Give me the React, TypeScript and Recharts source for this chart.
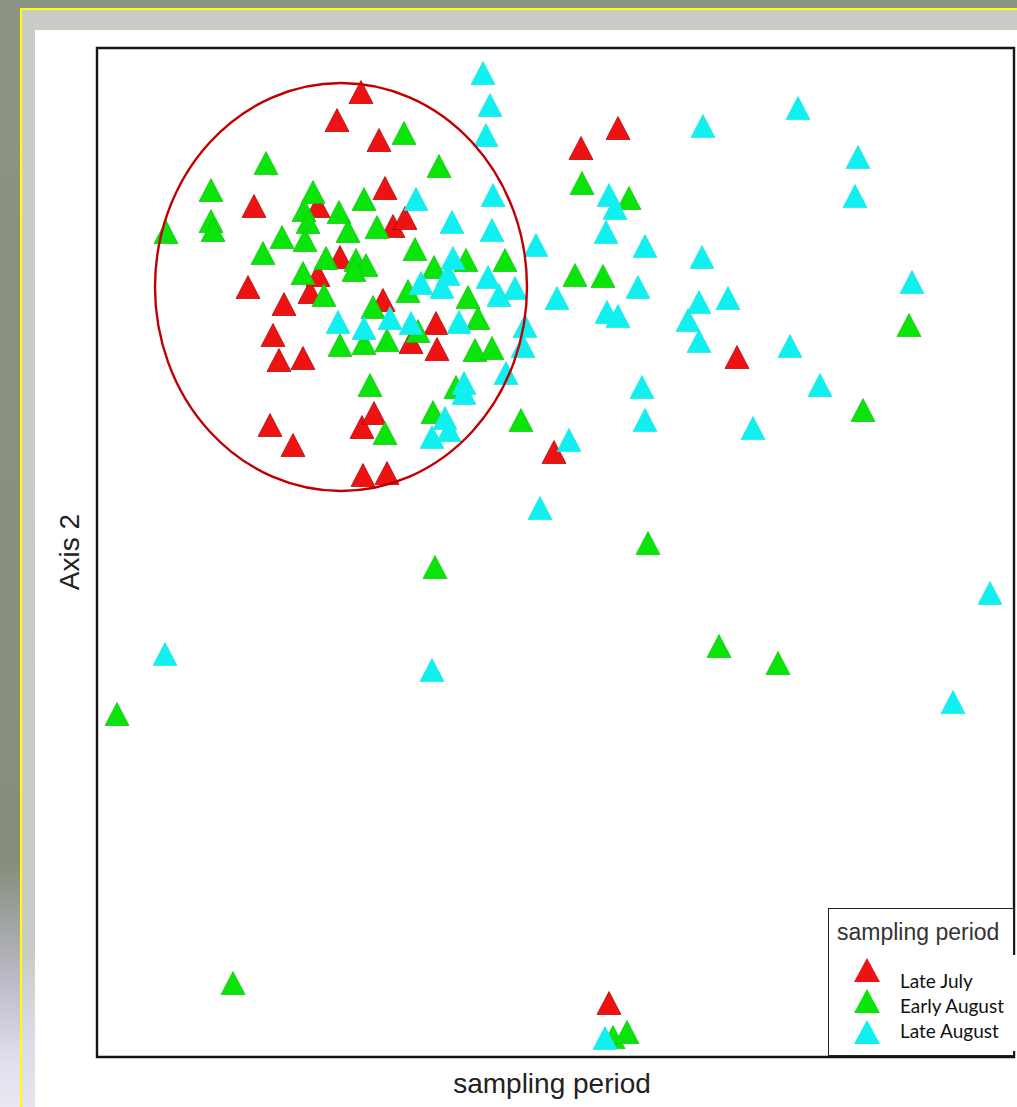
import { ScatterChart, Scatter, XAxis, YAxis, ReferenceArea } from 'recharts';

// ordination scores (Axis 1 across, Axis 2 up)
const X_MAX = 917;
const Y_MAX = 1009;

const lateJuly: [number, number][] = [
  [264, 965], [240, 937], [282, 917], [288, 869], [157, 851], [221, 851],
  [296, 831], [308, 839], [243, 800], [221, 782], [213, 765], [151, 770],
  [187, 753], [176, 722], [182, 697], [206, 699], [286, 757], [339, 734],
  [340, 708], [314, 715], [173, 632], [196, 612], [265, 630], [277, 644],
  [266, 582], [290, 584], [484, 909], [521, 929], [457, 605], [640, 700],
  [512, 54],
];

const earlyAugust: [number, number][] = [
  [307, 924], [342, 891], [169, 894], [114, 867], [114, 836], [116, 827],
  [69, 825], [216, 865], [207, 847], [211, 835], [208, 817], [242, 845],
  [251, 826], [267, 858], [280, 830], [185, 820], [166, 804], [229, 799],
  [259, 797], [269, 792], [257, 787], [206, 784], [227, 762], [318, 808],
  [337, 790], [369, 797], [408, 797], [311, 766], [371, 760], [381, 739],
  [276, 750], [243, 712], [267, 714], [290, 717], [321, 726], [378, 707],
  [395, 709], [273, 672], [336, 645], [359, 670], [288, 624], [424, 637],
  [485, 874], [532, 859], [478, 782], [506, 781], [812, 732], [766, 647],
  [551, 514], [338, 490], [622, 411], [681, 394], [20, 343], [136, 74],
  [516, 20], [530, 25],
];

const lateAugust: [number, number][] = [
  [386, 984], [393, 952], [389, 922], [319, 858], [396, 862], [355, 835],
  [395, 827], [439, 812], [356, 799], [351, 783], [345, 770], [324, 774],
  [391, 780], [402, 762], [418, 769], [241, 735], [267, 729], [293, 739],
  [314, 734], [362, 735], [428, 731], [426, 711], [409, 684], [367, 674],
  [367, 664], [348, 639], [352, 627], [335, 620], [443, 549], [606, 931],
  [701, 949], [761, 900], [758, 861], [512, 862], [518, 849], [509, 825],
  [548, 811], [605, 800], [815, 775], [460, 759], [541, 770], [602, 755],
  [631, 759], [510, 745], [521, 741], [591, 737], [602, 716], [693, 711],
  [723, 672], [545, 670], [548, 637], [656, 629], [472, 617], [893, 464],
  [68, 403], [335, 387], [856, 355], [508, 19],
];

// grouping ellipse for the Late July cluster: centre and radii in score units
const ellipseCenter = { x: 244, y: 770 };
const ellipseRadii = { rx: 186, ry: 204 };

const legendLabels = ['Late July', 'Early August', 'Late August'];
const colors = ['#ee1212', '#0be40b', '#10f0f0'];

const CHART_W = 1017;
const CHART_H = 1107;
const margin = { top: 48, right: 3, bottom: 50, left: 97 };
const plotW = CHART_W - margin.left - margin.right;
const plotH = CHART_H - margin.top - margin.bottom;

const toRows = (pts: [number, number][]) => pts.map(([x, y]) => ({ x, y }));

const triangle = (fill: string, stroke: string) => (props: any) => {
  const { cx, cy } = props;
  if (cx == null || cy == null) return <g />;
  const w = 12;
  const h = 11.5;
  return (
    <polygon
      points={`${cx},${cy - h} ${cx - w},${cy + h} ${cx + w},${cy + h}`}
      fill={fill}
      stroke={stroke}
      strokeWidth={0.7}
    />
  );
};

const ellipseShape = (props: any) => {
  const { cx, cy } = props;
  if (cx == null || cy == null) return <g />;
  return (
    <ellipse
      cx={cx}
      cy={cy}
      rx={(ellipseRadii.rx * plotW) / X_MAX}
      ry={(ellipseRadii.ry * plotH) / Y_MAX}
      fill="none"
      stroke="#c00000"
      strokeWidth={2.4}
    />
  );
};

const LegendTri = ({ color, top }: { color: string; top: number }) => (
  <svg width={28} height={26} style={{ position: 'absolute', left: 853, top }}>
    <polygon points="14,1 1,25 27,25" fill={color} />
  </svg>
);

export default function App() {
  return (
    <div
      style={{
        position: 'absolute',
        left: 0,
        top: 0,
        width: CHART_W,
        height: CHART_H,
        overflow: 'hidden',
        background:
          'linear-gradient(180deg, #8b9483 0%, #858d7c 78%, #b9b8c4 88%, #e2dfee 96%, #ebe8f3 100%)',
      }}
    >
      {/* yellow frame + grey mat */}
      <div
        style={{
          position: 'absolute',
          left: 20,
          top: 8,
          width: CHART_W,
          height: CHART_H,
          borderLeft: '2px solid #ffff00',
          borderTop: '2px solid #ffff00',
          background:
            'linear-gradient(180deg, #c9cdc5 0%, #c8ccc4 85%, #dcd9e6 92%, #e8e5f1 100%)',
        }}
      />
      <div
        style={{
          position: 'absolute',
          left: 35,
          top: 30,
          width: CHART_W,
          height: CHART_H,
          background: '#ffffff',
        }}
      />

      <div style={{ position: 'absolute', left: 0, top: 0 }}>
        <ScatterChart width={CHART_W} height={CHART_H} margin={margin}>
          <XAxis type="number" dataKey="x" domain={[0, X_MAX]} hide allowDataOverflow />
          <YAxis type="number" dataKey="y" domain={[0, Y_MAX]} hide allowDataOverflow />
          <ReferenceArea
            x1={0}
            x2={X_MAX}
            y1={0}
            y2={Y_MAX}
            fill="none"
            stroke="#151515"
            strokeWidth={2.4}
          />
          <Scatter
            data={toRows(lateJuly)}
            shape={triangle(colors[0], '#a80000')}
            isAnimationActive={false}
          />
          <Scatter
            data={toRows(earlyAugust)}
            shape={triangle(colors[1], '#10c010')}
            isAnimationActive={false}
          />
          <Scatter
            data={toRows(lateAugust)}
            shape={triangle(colors[2], '#20e4e4')}
            isAnimationActive={false}
          />
          <Scatter
            data={[ellipseCenter]}
            shape={ellipseShape}
            isAnimationActive={false}
          />
        </ScatterChart>
      </div>

      {/* axis titles */}
      <div
        style={{
          position: 'absolute',
          left: 70,
          top: 552,
          transform: 'translate(-50%, -50%) rotate(-90deg)',
          fontFamily: '"Liberation Sans", Arial, sans-serif',
          fontSize: 28,
          color: '#222',
          whiteSpace: 'nowrap',
        }}
      >
        Axis 2
      </div>
      <div
        style={{
          position: 'absolute',
          left: 552,
          top: 1084,
          transform: 'translate(-50%, -50%)',
          fontFamily: '"Liberation Sans", Arial, sans-serif',
          fontSize: 28,
          color: '#222',
          whiteSpace: 'nowrap',
        }}
      >
        sampling period
      </div>

      {/* legend */}
      <div
        style={{
          position: 'absolute',
          left: 828,
          top: 908,
          width: 186,
          height: 148,
          border: '1.5px solid #222',
          background: '#fff',
          boxSizing: 'border-box',
        }}
      />
      <div
        style={{
          position: 'absolute',
          left: 1004,
          top: 955,
          width: 14,
          height: 96,
          background: '#fff',
        }}
      />
      <div
        style={{
          position: 'absolute',
          left: 837,
          top: 932,
          transform: 'translateY(-50%)',
          fontFamily: '"Liberation Sans", Arial, sans-serif',
          fontSize: 23,
          color: '#333',
          whiteSpace: 'nowrap',
        }}
      >
        sampling period
      </div>
      {legendLabels.map((label, i) => (
        <div key={label}>
          <LegendTri color={colors[i]} top={957 + i * 31} />
          <div
            style={{
              position: 'absolute',
              left: 900,
              top: 980 + i * 25,
              transform: 'translateY(-50%)',
              fontFamily: 'Lato, "Open Sans", sans-serif',
              fontSize: 19,
              color: '#111',
              whiteSpace: 'nowrap',
            }}
          >
            {label}
          </div>
        </div>
      ))}
    </div>
  );
}
